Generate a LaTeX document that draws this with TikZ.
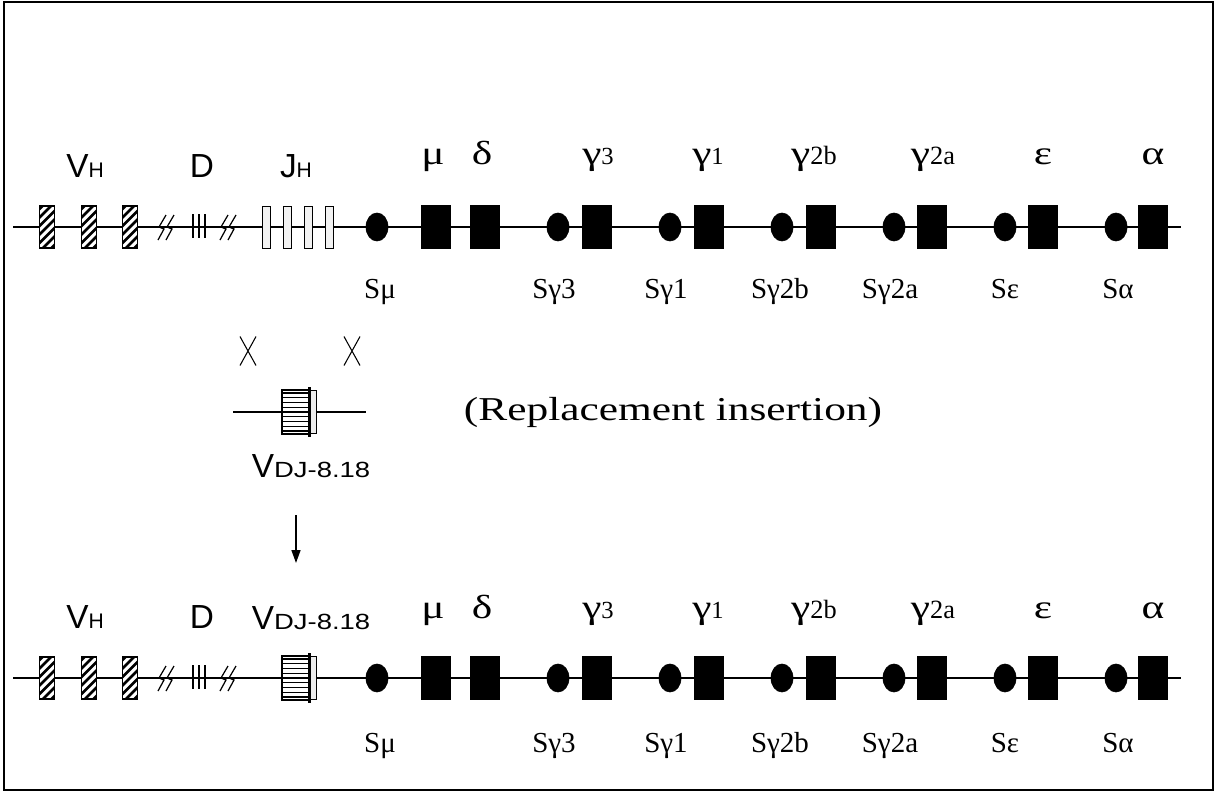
\documentclass[tikz,border=0pt]{standalone}
\usepackage{fontspec}
\setmainfont{Liberation Serif}
\setsansfont{Liberation Sans}
\newfontfamily\widefont[FakeStretch=1.3]{Liberation Serif}
\newfontfamily\widesans[FakeStretch=1.25]{Liberation Sans}
\usepackage{tikz}
\usetikzlibrary{positioning,arrows.meta,shapes.geometric,shapes.misc}
\newcommand\gsub[2][14]{{\rmfamily\fontsize{#1}{15}\selectfont #2}}

\begin{document}
\begin{tikzpicture}[
x=0.02cm,y=-0.02cm,
dna/.style={line width=0.6pt},
cbox/.style={draw,fill=black,minimum width=0.58cm,minimum height=0.86cm,inner sep=0pt},
sreg/.style={ellipse,draw,fill=black,minimum width=0.44cm,minimum height=0.56cm,inner sep=0pt},
vbox/.style={draw,line width=0.9pt,fill=white,minimum width=0.3cm,minimum height=0.84cm,inner sep=0pt,
  path picture={\foreach \k in {-4,...,4}
    \draw[line width=1.5pt] ([shift={(-0.3cm,\k*0.17cm-0.3cm)}]path picture bounding box.center) -- ++(0.6cm,0.6cm);}},
jbox/.style={draw,line width=0.5pt,fill=gray!10,minimum width=0.16cm,minimum height=0.84cm,inner sep=0pt},
ibox/.style={draw,line width=0.7pt,fill=white,minimum width=0.54cm,minimum height=0.88cm,inner sep=0pt,
  path picture={\foreach \k in {-4,...,4}
    \draw[line width=0.6pt] ([shift={(-0.3cm,\k*0.095cm)}]path picture bounding box.center) -- ++(0.6cm,0);}},
capbox/.style={draw,line width=0.5pt,fill=gray!15,minimum width=0.13cm,minimum height=0.86cm,inner sep=0pt},
xmark/.style={cross out,draw,line width=0.6pt,minimum width=0.3cm,minimum height=0.56cm,inner sep=0pt},
greek/.style={anchor=base,inner sep=0pt,font=\widefont\fontsize{19}{20}\selectfont},
slbl/.style={anchor=base,inner sep=0pt,font=\fontsize{16.5}{17}\selectfont},
sans/.style={anchor=base,inner sep=0pt,font=\sffamily\fontsize{19}{20}\selectfont},
arr/.style={-{Triangle[length=2.6mm,width=1.8mm]},line width=0.9pt}
]
\useasboundingbox[fill=white] (0,0) rectangle (1216,794);
\draw[line width=1.2pt] (4,2) rectangle (1213,790);

% the two heavy chain loci
\foreach \r/\ry/\dy in {top/227/0,bot/678/3}{
  \coordinate (L-\r) at (13,\ry);
  \coordinate (R-\r) at (1181,\ry);
  \draw[dna] (L-\r) -- (R-\r);
  \foreach \x [count=\i] in {47,89,130}
    \node[vbox] (v\i-\r) at (\x,\ry) {};
  \foreach \x in {158,166,220,228}
    \draw[line width=0.7pt] (\x,\ry+13) -- (\x+6,\ry+2) -- (\x+1,\ry) -- (\x+8,\ry-12);
  \foreach \x in {193,199,205}
    \draw[line width=1pt] (\x,\ry-13) -- (\x,\ry+11);
  \foreach \n/\x in {mu/436,delta/485,g3/597,g1/709,g2b/821,g2a/932,eps/1043,alpha/1153}
    \node[cbox] (\n-\r) at (\x,\ry) {};
  \foreach \n/\x in {smu/377,sg3/558,sg1/670,sg2b/782,sg2a/894,seps/1005,salpha/1116}
    \node[sreg] (\n-\r) at (\x,\ry) {};
  % labels
  \node[sans] (lvh-\r) at (85,\ry-50) {V\fontsize{12}{13}\selectfont H};
  \node[sans] (ld-\r) at (202,\ry-50) {D};
  \node[greek] (lmu-\r) at (433,\ry-63+\dy) {μ};
  \node[greek] (ldelta-\r) at (482,\ry-63+\dy) {δ};
  \node[greek] (lg3-\r) at (598,\ry-63+\dy) {γ\gsub{3}};
  \node[greek] (lg1-\r) at (708,\ry-63+\dy) {γ\gsub{1}};
  \node[greek] (lg2b-\r) at (814,\ry-63+\dy) {γ\gsub[15]{2b}};
  \node[greek] (lg2a-\r) at (933,\ry-63+\dy) {γ\gsub[15]{2a}};
  \node[greek] (leps-\r) at (1043,\ry-63+\dy) {ε};
  \node[greek] (lalpha-\r) at (1153,\ry-63+\dy) {α};
  \foreach \n/\x/\t in {smu/380/Sμ,sg3/554/Sγ3,sg1/666/Sγ1,sg2b/780/Sγ2b,sg2a/890/Sγ2a,seps/1005/Sε,salpha/1118/Sα}
    \node[slbl] (l\n-\r) at (\x,\ry+71+\dy) {\t};
}

% germline JH segments
\foreach \x [count=\i] in {266,287,308,329}
  \node[jbox] (j\i) at (\x,227) {};
\node[sans] (ljh) at (296,177) {J\fontsize{12}{13}\selectfont H};

% targeting construct
\node[xmark] (xl) at (248,351) {};
\node[xmark] (xr) at (352,351) {};
\coordinate (cl) at (233,412);
\coordinate (cr) at (366,412);
\draw[dna] (cl) -- (cr);
\foreach \r/\ry in {mid/412,bot/678}{
  \node[ibox] (ins-\r) at (295.5,\ry) {};
  \node[capbox,anchor=west] (cap-\r) at (ins-\r.east) {};
  \draw[line width=2pt] ([yshift=0.04cm]ins-\r.north east) -- ([yshift=-0.04cm]ins-\r.south east);
}
\node[sans] (lvdj-mid) at (311,477) {V\widesans\fontsize{12.5}{13}\selectfont DJ-8.18};
\node[sans] (lvdj-bot) at (311,629) {V\widesans\fontsize{12.5}{13}\selectfont DJ-8.18};
\node[anchor=base,inner sep=0pt,font=\widefont\fontsize{19}{20}\selectfont] (repl) at (673,420) {(Replacement insertion)};

\coordinate (a1) at (296,515);
\coordinate (a2) at (296,563);
\draw[arr] (a1) -- (a2);
\end{tikzpicture}
\end{document}
